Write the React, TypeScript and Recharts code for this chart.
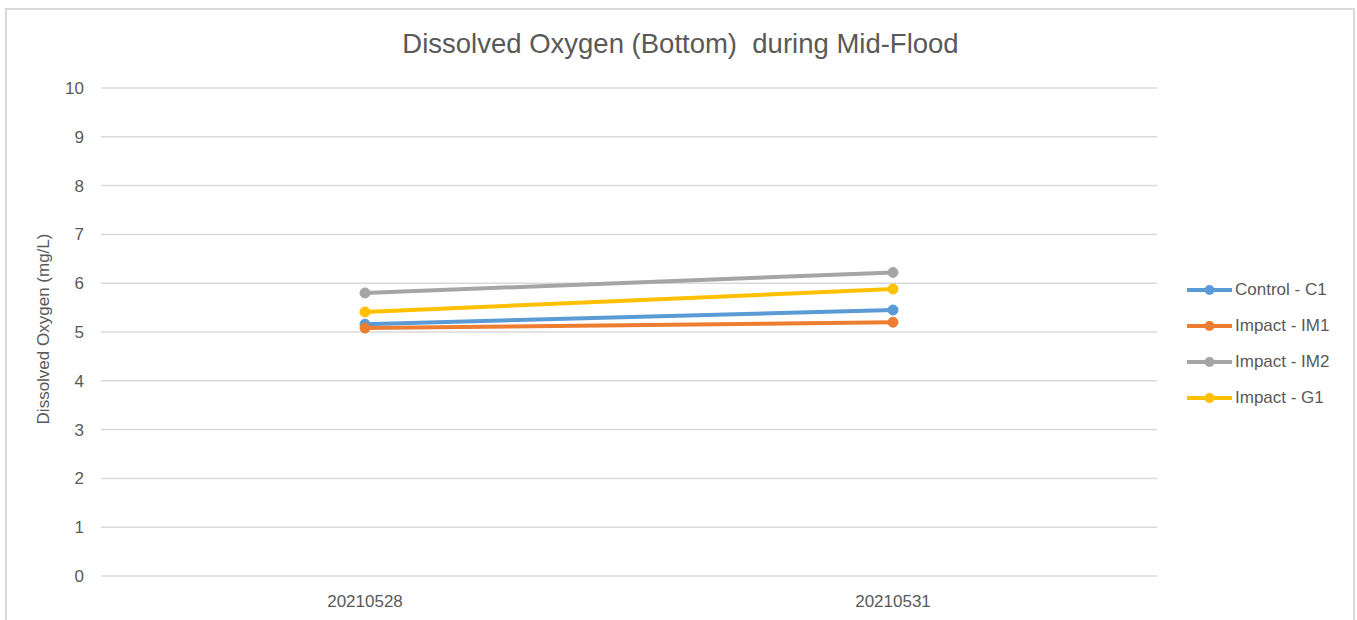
import React from "react";
import { LineChart, Line, XAxis, YAxis, CartesianGrid, Legend } from "recharts";

// sampling dates
const dates = ["20210528", "20210531"];

// bottom DO readings (mg/L), per station
const controlC1 = [5.16, 5.45];
const impactIM1 = [5.08, 5.2];
const impactIM2 = [5.8, 6.22];
const impactG1 = [5.41, 5.88];

const yTicks = [0, 1, 2, 3, 4, 5, 6, 7, 8, 9, 10];

const seriesList = [
  { key: "c1", name: "Control - C1", color: "#5B9BD5", values: controlC1 },
  { key: "im1", name: "Impact - IM1", color: "#ED7D31", values: impactIM1 },
  { key: "im2", name: "Impact - IM2", color: "#A5A5A5", values: impactIM2 },
  { key: "g1", name: "Impact - G1", color: "#FFC000", values: impactG1 },
];

const chartData = dates.map((d, i) => {
  const row: Record<string, string | number> = { date: d };
  seriesList.forEach((s) => {
    row[s.key] = s.values[i];
  });
  return row;
});

const FONT = "'Liberation Sans', Arial, sans-serif";
const TEXT_COLOR = "#595959";
const GRID_COLOR = "#d9d9d9";

function LegendBox() {
  return (
    <div style={{ fontFamily: FONT, fontSize: 17, color: TEXT_COLOR }}>
      {seriesList.map((s) => (
        <div key={s.key} style={{ display: "flex", alignItems: "center", height: 36 }}>
          <svg width={45} height={12} style={{ display: "block" }}>
            <line x1={0} y1={6} x2={45} y2={6} stroke={s.color} strokeWidth={4} />
            <circle cx={22.5} cy={6} r={5} fill={s.color} />
          </svg>
          <span style={{ marginLeft: 3, whiteSpace: "pre" }}>{s.name}</span>
        </div>
      ))}
    </div>
  );
}

export default function App() {
  return (
    <div style={{ position: "absolute", left: 0, top: 0, width: 1357, height: 620, overflow: "hidden", background: "#fff" }}>
      {/* chart frame, bottom edge falls outside the picture */}
      <div
        style={{
          position: "absolute",
          left: 5,
          top: 8,
          width: 1350,
          height: 700,
          border: `2px solid ${GRID_COLOR}`,
          boxSizing: "border-box",
        }}
      />
      <div
        style={{
          position: "absolute",
          left: 0,
          width: 1361,
          top: 28,
          textAlign: "center",
          fontFamily: FONT,
          fontSize: 27.5,
          color: TEXT_COLOR,
          whiteSpace: "pre",
        }}
      >
        {"Dissolved Oxygen (Bottom)  during Mid-Flood"}
      </div>
      <div style={{ position: "absolute", left: 0, top: 0 }}>
        <LineChart width={1357} height={620} data={chartData} margin={{ top: 88, right: 200, bottom: 0, left: 0 }}>
          <CartesianGrid vertical={false} stroke={GRID_COLOR} strokeWidth={1.5} />
          <XAxis
            dataKey="date"
            height={44}
            padding={{ left: 264, right: 264 }}
            tickLine={false}
            axisLine={false}
            tickSize={0}
            tickMargin={19}
            tick={{ fill: TEXT_COLOR, fontSize: 17, fontFamily: FONT }}
          />
          <YAxis
            width={101}
            domain={[0, 10]}
            ticks={yTicks}
            interval={0}
            tickLine={false}
            axisLine={false}
            tickSize={0}
            tickMargin={17}
            tick={{ fill: TEXT_COLOR, fontSize: 17, fontFamily: FONT }}
            label={{
              value: "Dissolved Oxygen (mg/L)",
              angle: -90,
              position: "center",
              dx: -8,
              dy: -3,
              style: { fill: TEXT_COLOR, fontSize: 17, fontFamily: FONT },
            }}
          />
          <Legend
            layout="vertical"
            align="center"
            verticalAlign="middle"
            wrapperStyle={{ position: "absolute", left: 1187, top: 272, width: 170 }}
            content={() => <LegendBox />}
          />
          {seriesList.map((s) => (
            <Line
              key={s.key}
              dataKey={s.key}
              name={s.name}
              type="linear"
              stroke={s.color}
              strokeWidth={4}
              dot={{ r: 5, fill: s.color, stroke: s.color, strokeWidth: 1 }}
              activeDot={false}
              isAnimationActive={false}
            />
          ))}
        </LineChart>
      </div>
    </div>
  );
}
